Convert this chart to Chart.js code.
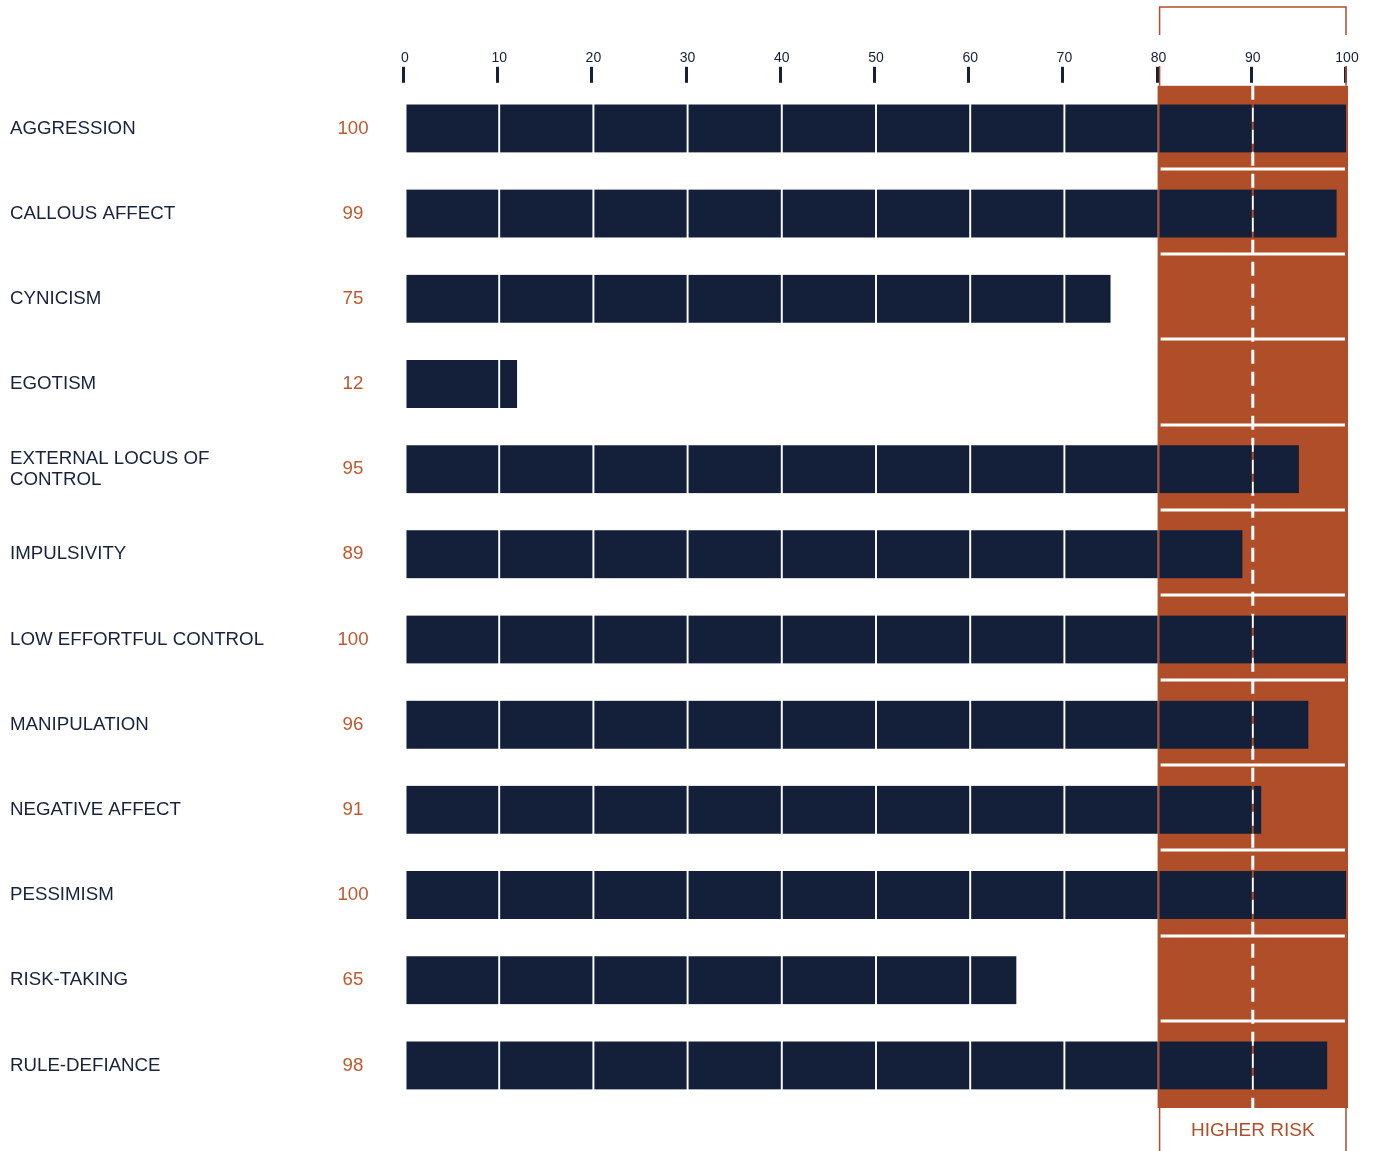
<!DOCTYPE html>
<html lang="en">
<head>
    <meta charset="UTF-8">
    <title>Risk Profile</title>
    <script src="https://cdn.jsdelivr.net/npm/chart.js@4.4.1/dist/chart.umd.min.js"></script>
    <style>
        html, body { margin: 0; padding: 0; background: #fff; }
        #wrap { position: relative; width: 1376px; height: 1151px; }
    </style>
</head>
<body>
    <div id="wrap"><canvas id="riskChart" width="1376" height="1151"></canvas></div>

    <script>
        const categories = [
            'AGGRESSION', 'CALLOUS AFFECT', 'CYNICISM', 'EGOTISM',
            ['EXTERNAL LOCUS OF', 'CONTROL'], 'IMPULSIVITY', 'LOW EFFORTFUL CONTROL',
            'MANIPULATION', 'NEGATIVE AFFECT', 'PESSIMISM', 'RISK-TAKING', 'RULE-DEFIANCE'
        ];
        const scores = [100, 99, 75, 12, 95, 89, 100, 96, 91, 100, 65, 98];
        const tickValues = [0, 10, 20, 30, 40, 50, 60, 70, 80, 90, 100];
        const riskStart = 80;
        const riskEnd = 100;
        const riskMarker = 90;
        const riskLabel = 'HIGHER RISK';

        const NAVY = '#142039';
        const ORANGE = '#b04e29';
        const VALUE_ORANGE = '#c0582f';
        const FONT = '"Liberation Sans", Arial, Helvetica, sans-serif';

        // each bar is split into blocks of 10
        const segments = [];
        for (let k = 0; k < 10; k++) {
            segments.push({
                data: scores.map(v => {
                    const part = Math.min(10, v - k * 10);
                    return part > 0 ? part : null;
                }),
                backgroundColor: NAVY,
                borderColor: 'rgba(0,0,0,0)',
                borderWidth: { left: 1.3, right: 1.3, top: 0, bottom: 0 },
                borderSkipped: false,
                barThickness: 48
            });
        }

        const riskPlugin = {
            id: 'riskBand',
            beforeDraw(chart) {
                const { ctx, chartArea, scales } = chart;
                const x0 = scales.x.getPixelForValue(riskStart);
                const x1 = scales.x.getPixelForValue(riskEnd);
                ctx.save();
                ctx.fillStyle = ORANGE;
                ctx.fillRect(x0 - 1, chartArea.top, x1 - x0 + 2, chartArea.bottom - chartArea.top);
                ctx.restore();
            },
            beforeDatasetsDraw(chart) {
                const { ctx, chartArea, scales } = chart;
                const x0 = scales.x.getPixelForValue(riskStart);
                const x1 = scales.x.getPixelForValue(riskEnd);
                const step = (chartArea.bottom - chartArea.top) / categories.length;
                ctx.save();
                // white separators between rows inside the band
                ctx.strokeStyle = '#ffffff';
                ctx.lineWidth = 3;
                for (let i = 1; i < categories.length; i++) {
                    const y = Math.round(chartArea.top + step * i) - 2;
                    ctx.beginPath();
                    ctx.moveTo(x0 + 2, y);
                    ctx.lineTo(x1 - 2, y);
                    ctx.stroke();
                }
                // dashed marker line
                const xm = scales.x.getPixelForValue(riskMarker);
                ctx.setLineDash([14, 8]);
                ctx.beginPath();
                ctx.moveTo(xm, chartArea.top);
                ctx.lineTo(xm, chartArea.bottom);
                ctx.stroke();
                ctx.restore();
            },
            afterDraw(chart) {
                const { ctx, chartArea, scales } = chart;
                const x0 = scales.x.getPixelForValue(riskStart);
                const x1 = scales.x.getPixelForValue(riskEnd);
                ctx.save();

                // tick marks
                ctx.strokeStyle = NAVY;
                ctx.lineWidth = 3;
                tickValues.forEach(v => {
                    const x = Math.round(scales.x.getPixelForValue(v)) - 1.5;
                    ctx.beginPath();
                    ctx.moveTo(x, chartArea.top - 19);
                    ctx.lineTo(x, chartArea.top - 3);
                    ctx.stroke();
                });

                // bracket above and box below the band
                ctx.strokeStyle = ORANGE;
                ctx.lineWidth = 1.5;
                ctx.beginPath();
                ctx.moveTo(x0 + 1, 35);
                ctx.lineTo(x0 + 1, 7);
                ctx.lineTo(x1 - 1, 7);
                ctx.lineTo(x1 - 1, 35);
                ctx.moveTo(x0 + 1, 66);
                ctx.lineTo(x0 + 1, chartArea.top);
                ctx.moveTo(x1 - 1, 66);
                ctx.lineTo(x1 - 1, chartArea.top);
                ctx.moveTo(x0 + 1, chartArea.bottom);
                ctx.lineTo(x0 + 1, chart.height);
                ctx.moveTo(x1 - 1, chartArea.bottom);
                ctx.lineTo(x1 - 1, chart.height);
                ctx.stroke();

                ctx.fillStyle = ORANGE;
                ctx.font = '19px ' + FONT;
                ctx.textAlign = 'center';
                ctx.textBaseline = 'middle';
                ctx.fillText(riskLabel, (x0 + x1) / 2, 1131);

                // category labels and scores
                ctx.font = '18.7px ' + FONT;
                categories.forEach((label, i) => {
                    const y = scales.y.getPixelForValue(i);
                    const lines = Array.isArray(label) ? label : [label];
                    ctx.fillStyle = '#17233c';
                    ctx.textAlign = 'left';
                    lines.forEach((line, j) => {
                        ctx.fillText(line, 10, y + (j - (lines.length - 1) / 2) * 21);
                    });
                    ctx.fillStyle = VALUE_ORANGE;
                    ctx.textAlign = 'center';
                    ctx.fillText(String(scores[i]), 353, y);
                });
                ctx.restore();
            }
        };

        new Chart(document.getElementById('riskChart'), {
            type: 'bar',
            data: {
                labels: categories,
                datasets: segments
            },
            options: {
                indexAxis: 'y',
                responsive: false,
                animation: false,
                layout: {
                    padding: { left: 405, right: 29, top: 50, bottom: 43 }
                },
                scales: {
                    x: {
                        position: 'top',
                        stacked: true,
                        min: 0,
                        max: 100,
                        afterBuildTicks: axis => {
                            axis.ticks = tickValues.map(v => ({ value: v }));
                        },
                        border: { display: false },
                        grid: {
                            drawOnChartArea: false,
                            drawTicks: true,
                            tickLength: 19,
                            tickColor: 'rgba(0,0,0,0)'
                        },
                        ticks: {
                            color: NAVY,
                            padding: 0,
                            maxRotation: 0,
                            autoSkip: false,
                            font: { family: FONT, size: 14 }
                        }
                    },
                    y: {
                        stacked: true,
                        display: false
                    }
                },
                plugins: {
                    legend: { display: false },
                    tooltip: { enabled: false }
                }
            },
            plugins: [riskPlugin]
        });
    </script>
</body>
</html>
